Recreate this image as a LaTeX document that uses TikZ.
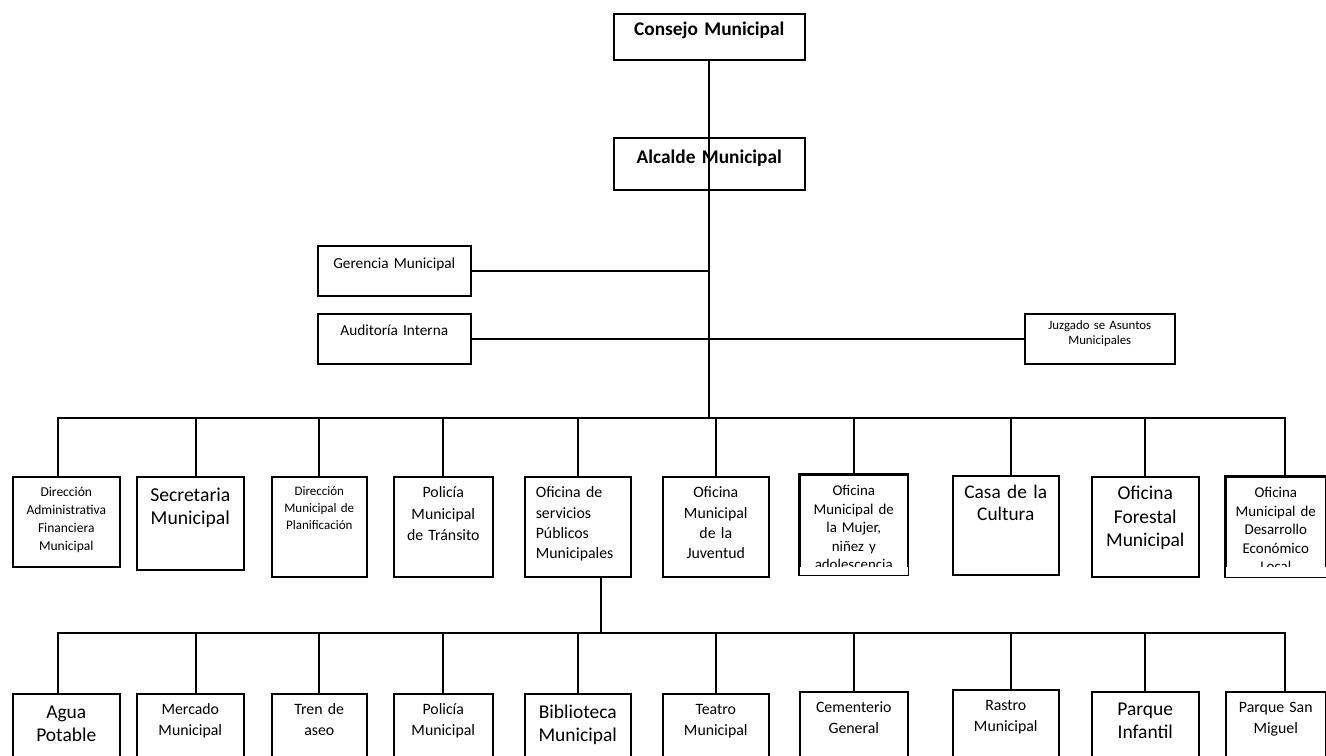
\documentclass[tikz,border=0pt]{standalone}
\usepackage{fontspec}
\setmainfont{Carlito}

\begin{document}
\begin{tikzpicture}[x=0.02cm, y=-0.02cm,
  caja/.style={draw, line width=0.9pt, inner sep=0pt, anchor=north west, align=center},
  linea/.style={line width=0.9pt},
  titulo/.style={font=\fontsize{11}{13}\selectfont\bfseries},
  grande/.style={font=\fontsize{11.1}{12.8}\selectfont},
  media/.style={font=\fontsize{9}{12}\selectfont},
  chica/.style={font=\fontsize{8.5}{10.5}\selectfont}]
\useasboundingbox (0,0) rectangle (1326,755);
\clip (0,0) rectangle (1326,755);

%--nivel superior
\node[caja, titulo, text width=3.82cm, text height=0.44cm, text depth=0.48cm] (consejo) at (613,13) {Consejo Municipal};
\node[caja, titulo, text width=3.82cm, text height=0.52cm, text depth=0.52cm] (alcalde) at (613,137) {Alcalde Municipal};

%--staff
\node[caja, font=\fontsize{8.7}{11}\selectfont, text width=3.06cm, text height=0.46cm, text depth=0.54cm] (gerencia) at (317,245) {Gerencia Municipal};
\node[caja, font=\fontsize{8.7}{11}\selectfont, text width=3.06cm, text height=0.44cm, text depth=0.56cm] (auditoria) at (317,313) {Auditoría Interna};
\node[caja, font=\fontsize{7.3}{8.5}\selectfont, text width=3.00cm, text height=0.32cm, text depth=0.68cm] (juzgado) at (1024,313) {Juzgado se Asuntos\\Municipales};

\coordinate (bus1) at (708,418);
\coordinate (bus2) at (601,633);

%--primer nivel
\node[caja, font=\fontsize{7.7}{10.2}\selectfont, text width=2.14cm, text height=0.40cm, text depth=1.40cm] (direccion) at (12,476) {Dirección\\Administrativa\\Financiera\\Municipal};
\node[caja, font=\fontsize{11.2}{13}\selectfont, text width=2.14cm, text height=0.50cm, text depth=1.36cm] (secretaria) at (136,476) {Secretaria\\Municipal};
\node[caja, font=\fontsize{7.4}{9.6}\selectfont, text width=1.90cm, text height=0.38cm, text depth=1.62cm] (planificacion) at (271,476) {Dirección\\Municipal de\\Planificación};
\node[caja, font=\fontsize{9}{12.2}\selectfont, text width=1.98cm, text height=0.42cm, text depth=1.58cm] (transito) at (393,476) {Policía\\Municipal\\de Tránsito};
\node[caja, font=\fontsize{9}{11.6}\selectfont, align=left, inner xsep=0.22cm, text width=1.68cm, text height=0.42cm, text depth=1.58cm] (servicios) at (524,476) {Oficina de\\servicios\\Públicos\\Municipales};
\node[caja, font=\fontsize{9}{11.6}\selectfont, text width=2.12cm, text height=0.42cm, text depth=1.58cm] (juventud) at (662,476) {Oficina\\Municipal\\de la\\Juventud};
\begin{scope}
  \clip (790,465) rectangle (915,566);
  \node[caja, chica, text width=2.16cm, text height=0.42cm, text depth=1.58cm] (mujer) at (799,474) {Oficina\\Municipal de\\la Mujer,\\niñez y\\adolescencia};
\end{scope}
\draw[linea] (mujer.south west) rectangle (mujer.north east);
\node[caja, font=\fontsize{11}{12.5}\selectfont, text width=2.12cm, text height=0.46cm, text depth=1.52cm] (cultura) at (952,475) {Casa de la\\Cultura};
\node[caja, font=\fontsize{11.1}{13.3}\selectfont, text width=2.14cm, text height=0.46cm, text depth=1.54cm] (forestal) at (1091,476) {Oficina\\Forestal\\Municipal};
\begin{scope}
  \clip (1216,465) rectangle (1335,566);
  \node[caja, chica, text width=2.00cm, text height=0.42cm, text depth=1.58cm] (desarrollo) at (1225,476) {Oficina\\Municipal de\\Desarrollo\\Económico\\Local};
\end{scope}
\draw[linea] (desarrollo.south west) rectangle (desarrollo.north east);

%--segundo nivel (servicios publicos)
\node[caja, grande, text width=2.14cm, text height=0.50cm, text depth=1.40cm] (agua) at (12,693) {Agua\\Potable};
\node[caja, media, text width=2.14cm, text height=0.42cm, text depth=1.48cm] (mercado) at (136,693) {Mercado\\Municipal};
\node[caja, media, text width=1.90cm, text height=0.42cm, text depth=1.48cm] (tren) at (271,693) {Tren de\\aseo};
\node[caja, media, text width=1.98cm, text height=0.42cm, text depth=1.48cm] (policia) at (393,693) {Policía\\Municipal};
\node[caja, grande, text width=2.12cm, text height=0.50cm, text depth=1.40cm] (biblioteca) at (524,693) {Biblioteca\\Municipal};
\node[caja, media, text width=2.12cm, text height=0.42cm, text depth=1.48cm] (teatro) at (662,693) {Teatro\\Municipal};
\node[caja, media, text width=2.16cm, text height=0.42cm, text depth=1.48cm] (cementerio) at (799,691) {Cementerio\\General};
\node[caja, media, text width=2.12cm, text height=0.42cm, text depth=1.48cm] (rastro) at (952,689) {Rastro\\Municipal};
\node[caja, grande, text width=2.14cm, text height=0.48cm, text depth=1.42cm] (infantil) at (1091,691) {Parque\\Infantil};
\node[caja, font=\fontsize{9}{11.5}\selectfont, text width=2.00cm, text height=0.42cm, text depth=1.48cm] (sanmiguel) at (1225,691) {Parque San\\Miguel};

%--puntos de enlace desplazados
\coordinate (d1) at ([xshift=-0.17cm]direccion.north);
\coordinate (d2) at ([xshift=0.11cm]secretaria.north);
\coordinate (d8) at ([xshift=0.10cm]cultura.north);
\coordinate (d10) at ([xshift=0.18cm]desarrollo.north);
\coordinate (s1) at ([xshift=-0.17cm]agua.north);
\coordinate (s2) at ([xshift=0.11cm]mercado.north);
\coordinate (s8) at ([xshift=0.10cm]rastro.north);
\coordinate (s10) at ([xshift=0.18cm]sanmiguel.north);

%--conectores
\draw[linea] (consejo.south) -- (consejo.south |- bus1);
\draw[linea] (gerencia.east) -- (gerencia.east -| consejo.south);
\draw[linea] (auditoria.east) -- (juzgado.west);

\draw[linea] (d1) -- (d1 |- bus1) -- (d10 |- bus1) -- (d10);
\draw[linea] (d2) -- (d2 |- bus1)
  (planificacion.north) -- (planificacion.north |- bus1)
  (transito.north) -- (transito.north |- bus1)
  (servicios.north) -- (servicios.north |- bus1)
  (juventud.north) -- (juventud.north |- bus1)
  (mujer.north) -- (mujer.north |- bus1)
  (d8) -- (d8 |- bus1)
  (forestal.north) -- (forestal.north |- bus1);

\draw[linea] (bus2 |- servicios.south) -- (bus2);
\draw[linea] (s1) -- (s1 |- bus2) -- (s10 |- bus2) -- (s10);
\draw[linea] (s2) -- (s2 |- bus2)
  (tren.north) -- (tren.north |- bus2)
  (policia.north) -- (policia.north |- bus2)
  (biblioteca.north) -- (biblioteca.north |- bus2)
  (teatro.north) -- (teatro.north |- bus2)
  (cementerio.north) -- (cementerio.north |- bus2)
  (s8) -- (s8 |- bus2)
  (infantil.north) -- (infantil.north |- bus2);

\end{tikzpicture}
\end{document}
